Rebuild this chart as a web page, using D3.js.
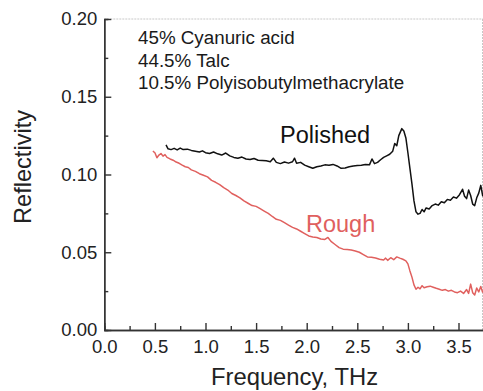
<!DOCTYPE html>
<html>
<head>
<meta charset="utf-8">
<script src="https://cdnjs.cloudflare.com/ajax/libs/d3/7.8.5/d3.min.js"></script>
<style>
  body { margin: 0; background: white; }
  svg { display: block; font-family: "Liberation Sans", Arial, sans-serif; }
  .axis path, .axis line { stroke: #333; stroke-width: 1.4px; fill: none; }
  .axis text { fill: #222; font-size: 18.5px; }
  .frame { stroke: #c8c8c8; stroke-width: 1px; stroke-dasharray: 2 1; }
  .line { fill: none; stroke-width: 1.5px; stroke-linejoin: round; }
</style>
</head>
<body>
<svg id="svg" width="483" height="391"></svg>
<script>
// frequency (THz) and reflectivity
var polishedX = [0.61,0.63,0.66,0.69,0.72,0.75,0.78,0.82,0.86,0.90,0.94,0.97,1.00,1.04,1.08,1.12,1.16,1.20,1.24,1.28,
  1.32,1.36,1.40,1.44,1.48,1.52,1.56,1.60,1.64,1.67,1.70,1.74,1.78,1.82,1.86,1.88,1.90,1.94,1.98,2.02,
  2.06,2.10,2.14,2.18,2.22,2.26,2.30,2.34,2.38,2.42,2.46,2.50,2.54,2.58,2.62,2.645,2.67,2.70,2.73,2.76,
  2.79,2.82,2.85,2.87,2.89,2.91,2.94,2.96,2.98,3.00,3.02,3.04,3.06,3.08,3.10,3.12,3.14,3.16,3.18,3.21,
  3.24,3.27,3.30,3.33,3.36,3.39,3.42,3.45,3.48,3.51,3.54,3.56,3.58,3.60,3.62,3.64,3.66,3.68,3.70,3.72,3.74];
var polishedY = [0.1190,0.1165,0.1160,0.1168,0.1158,0.1170,0.1160,0.1163,0.1155,0.1150,0.1145,0.1152,0.1140,0.1135,0.1145,0.1133,0.1125,0.1138,0.1120,0.1110,
  0.1105,0.1112,0.1100,0.1096,0.1103,0.1092,0.1090,0.1088,0.1082,0.1105,0.1078,0.1070,0.1080,0.1073,0.1082,0.1105,0.1072,0.1078,0.1060,0.1050,
  0.1040,0.1050,0.1055,0.1062,0.1060,0.1065,0.1055,0.1040,0.1042,0.1050,0.1055,0.1058,0.1060,0.1065,0.1062,0.1100,0.1070,0.1078,0.1095,0.1110,
  0.1120,0.1130,0.1150,0.1200,0.1185,0.1250,0.1295,0.1280,0.1235,0.1140,0.1040,0.0940,0.0830,0.0760,0.0745,0.0750,0.0775,0.0760,0.0785,0.0778,
  0.0800,0.0810,0.0803,0.0825,0.0818,0.0840,0.0835,0.0855,0.0848,0.0870,0.0905,0.0860,0.0845,0.0900,0.0865,0.0810,0.0800,0.0850,0.0880,0.0930,0.0860];

var roughX = [0.48,0.50,0.52,0.54,0.56,0.58,0.60,0.62,0.65,0.68,0.71,0.74,0.77,0.80,0.83,0.86,0.90,0.94,0.98,1.02,
  1.06,1.10,1.14,1.18,1.22,1.26,1.30,1.34,1.38,1.42,1.46,1.50,1.54,1.58,1.62,1.66,1.70,1.74,1.78,1.82,
  1.86,1.90,1.94,1.98,2.02,2.06,2.10,2.14,2.18,2.21,2.24,2.28,2.32,2.36,2.40,2.44,2.48,2.52,2.56,2.60,
  2.64,2.68,2.72,2.76,2.78,2.80,2.83,2.86,2.89,2.92,2.95,2.98,3.00,3.02,3.04,3.06,3.08,3.10,3.12,3.14,
  3.16,3.19,3.22,3.25,3.28,3.31,3.34,3.37,3.40,3.43,3.46,3.49,3.52,3.55,3.58,3.60,3.62,3.64,3.66,3.68,3.70,3.72,3.74];
var roughY = [0.1150,0.1140,0.1108,0.1125,0.1135,0.1118,0.1128,0.1110,0.1100,0.1092,0.1080,0.1072,0.1060,0.1050,0.1045,0.1030,0.1020,0.1005,0.0995,0.0985,
  0.0962,0.0950,0.0935,0.0915,0.0900,0.0878,0.0865,0.0850,0.0830,0.0815,0.0800,0.0795,0.0780,0.0765,0.0750,0.0730,0.0712,0.0705,0.0690,0.0675,
  0.0660,0.0650,0.0635,0.0620,0.0605,0.0598,0.0595,0.0585,0.0582,0.0595,0.0570,0.0550,0.0530,0.0520,0.0518,0.0515,0.0508,0.0500,0.0485,0.0470,
  0.0468,0.0463,0.0455,0.0450,0.0462,0.0448,0.0465,0.0452,0.0470,0.0462,0.0455,0.0445,0.0425,0.0380,0.0340,0.0290,0.0262,0.0275,0.0265,0.0285,
  0.0272,0.0278,0.0282,0.0275,0.0268,0.0262,0.0255,0.0260,0.0250,0.0255,0.0245,0.0240,0.0250,0.0235,0.0260,0.0235,0.0295,0.0240,0.0225,0.0270,0.0245,0.0280,0.0240];

var xTicks = [0, 0.5, 1.0, 1.5, 2.0, 2.5, 3.0, 3.5];
var xMinor = [0.25, 0.75, 1.25, 1.75, 2.25, 2.75, 3.25, 3.75];
var yTicks = [0, 0.05, 0.10, 0.15, 0.20];
var yMinor = [0.025, 0.075, 0.125, 0.175];
var notes = ["45% Cyanuric acid", "44.5% Talc", "10.5% Polyisobutylmethacrylate"];

var svg = d3.select("#svg");
// plot box (note: "top" is taken by window.top)
var pLeft = 104.3, pRight = 483.8, pTop = 19, pBottom = 330;

var x = d3.scaleLinear().domain([0, 3.75]).range([pLeft, pRight]);
var y = d3.scaleLinear().domain([0, 0.2]).range([pBottom, pTop]);

svg.append("defs").append("clipPath").attr("id", "clip")
  .append("rect").attr("x", pLeft).attr("y", pTop)
  .attr("width", pRight - pLeft).attr("height", pBottom - pTop);

// faint frame top / right
svg.append("line").attr("class", "frame")
  .attr("x1", pLeft).attr("x2", 483).attr("y1", pTop).attr("y2", pTop);
svg.append("line").attr("class", "frame")
  .attr("x1", 482.5).attr("x2", 482.5).attr("y1", pTop).attr("y2", pBottom);

// minor ticks first, then major axes on top
svg.append("g").attr("class", "x axis").attr("transform", "translate(0," + pBottom + ")")
  .call(d3.axisBottom(x).tickValues(xMinor).tickSize(-4).tickFormat(""));
svg.append("g").attr("class", "y axis").attr("transform", "translate(" + pLeft + ",0)")
  .call(d3.axisLeft(y).tickValues(yMinor).tickSize(-4).tickFormat(""));

svg.append("g").attr("class", "x axis").attr("transform", "translate(0," + pBottom + ")")
  .call(d3.axisBottom(x).tickValues(xTicks).tickSize(-7).tickSizeOuter(0)
    .tickPadding(10).tickFormat(d3.format(".1f")));
svg.append("g").attr("class", "y axis").attr("transform", "translate(" + pLeft + ",0)")
  .call(d3.axisLeft(y).tickValues(yTicks).tickSize(-7).tickSizeOuter(0)
    .tickPadding(7).tickFormat(d3.format(".2f")));

var line = d3.line()
  .x(function(d) { return x(d[0]); })
  .y(function(d) { return y(d[1]); });

var plot = svg.append("g").attr("clip-path", "url(#clip)");
plot.append("path").attr("class", "line").attr("stroke", "#111")
  .attr("d", line(d3.zip(polishedX, polishedY)));
plot.append("path").attr("class", "line").attr("stroke", "#e0605e")
  .attr("d", line(d3.zip(roughX, roughY)));

// labels
svg.selectAll("text.note").data(notes).enter().append("text")
  .attr("class", "note")
  .attr("x", 138).attr("y", function(d, i) { return 44 + i * 22.5; })
  .attr("font-size", 18.8).attr("fill", "#1a1a1a")
  .text(function(d) { return d; });

svg.append("text").attr("x", 280).attr("y", 142.5)
  .attr("font-size", 23.5).attr("fill", "#111").text("Polished");
svg.append("text").attr("x", 306).attr("y", 232)
  .attr("font-size", 23.5).attr("fill", "#e0605e").text("Rough");

svg.append("text").attr("x", 294.5).attr("y", 385)
  .attr("text-anchor", "middle").attr("font-size", 23.8).attr("fill", "#222")
  .text("Frequency, THz");
svg.append("text").attr("transform", "translate(31,167) rotate(-90)")
  .attr("text-anchor", "middle").attr("font-size", 23.6).attr("fill", "#222")
  .text("Reflectivity");
</script>
</body>
</html>
